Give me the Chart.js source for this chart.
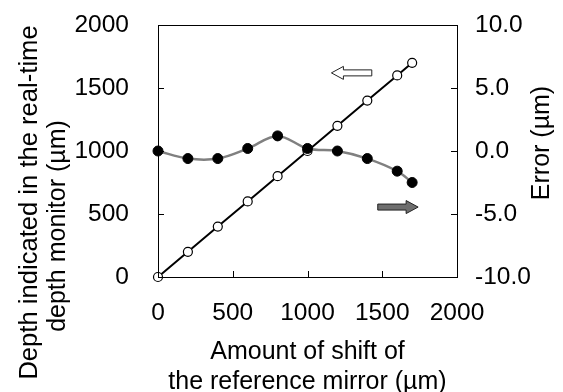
<!DOCTYPE html>
<html>
<head>
<meta charset="utf-8">
<script src="https://cdn.jsdelivr.net/npm/chart.js@4"></script>
<style>
  html, body { margin: 0; padding: 0; background: #fff; }
  #wrap { width: 563px; height: 392px; }
</style>
</head>
<body>
<div id="wrap"><canvas id="chart" width="563" height="392"></canvas></div>
<script>
// shift of the reference mirror (µm)
const shift = [0, 200, 400, 600, 800, 1000, 1200, 1400, 1600, 1700];
// depth shown in the real-time monitor (µm)
const depth = [0, 200, 400, 600, 800, 1000, 1200, 1400, 1600, 1700];
// error (µm)
const error = [0.0, -0.6, -0.6, 0.2, 1.2, 0.2, 0.0, -0.6, -1.6, -2.5];

const xTicks = [0, 500, 1000, 1500, 2000];
const depthTicks = [0, 500, 1000, 1500, 2000];
const errorTicks = [-10, -5, 0, 5, 10];

const FONT = "'Liberation Sans', Arial, sans-serif";
const TICK_SIZE = 24.5;
const TITLE_SIZE = 25;

// direction arrows telling which axis each curve belongs to
const arrows = [
    { axis: 'y', from: 1430, to: 1160, at: 1620, fill: '#ffffff' },
    { axis: 'y2', from: 1470, to: 1740, at: -4.45, fill: '#6e6e6e' }
];

function rotatedText(ctx, text, x, y, size) {
    ctx.save();
    ctx.translate(x, y);
    ctx.rotate(-Math.PI / 2);
    ctx.font = size + 'px ' + FONT;
    ctx.fillStyle = '#000';
    ctx.textAlign = 'center';
    ctx.textBaseline = 'middle';
    ctx.fillText(text, 0, 0);
    ctx.restore();
}

// fixed axis sizes, no extra label padding around the plot
function fixSize(s, size) {
    if (s.isHorizontal()) s.height = size; else s.width = size;
    s.paddingTop = s.paddingBottom = s.paddingLeft = s.paddingRight = 0;
}

const frame = {
    id: 'frame',
    afterDatasetsDraw(chart) {
        const { ctx, chartArea: a, scales } = chart;
        ctx.save();
        ctx.strokeStyle = '#000';
        ctx.lineWidth = 1;
        ctx.strokeRect(Math.round(a.left) + 0.5, Math.round(a.top) + 0.5,
            Math.round(a.right - a.left), Math.round(a.bottom - a.top));

        // inward tick marks
        const len = 6;
        ctx.beginPath();
        xTicks.forEach(v => {
            const px = Math.round(scales.x.getPixelForValue(v)) + 0.5;
            ctx.moveTo(px, a.bottom); ctx.lineTo(px, a.bottom - len);
        });
        depthTicks.forEach(v => {
            const py = Math.round(scales.y.getPixelForValue(v)) + 0.5;
            ctx.moveTo(a.left, py); ctx.lineTo(a.left + len, py);
        });
        errorTicks.forEach(v => {
            const py = Math.round(scales.y2.getPixelForValue(v)) + 0.5;
            ctx.moveTo(a.right, py); ctx.lineTo(a.right - len, py);
        });
        ctx.stroke();

        // arrows
        arrows.forEach(ar => {
            const x1 = scales.x.getPixelForValue(ar.from);
            const x2 = scales.x.getPixelForValue(ar.to);
            const y = scales[ar.axis].getPixelForValue(ar.at);
            const dir = Math.sign(x2 - x1);
            const head = 12, bodyH = 3, headH = 6.5;
            const xb = x2 - dir * head;
            ctx.beginPath();
            ctx.moveTo(x1, y - bodyH);
            ctx.lineTo(xb, y - bodyH);
            ctx.lineTo(xb, y - headH);
            ctx.lineTo(x2, y);
            ctx.lineTo(xb, y + headH);
            ctx.lineTo(xb, y + bodyH);
            ctx.lineTo(x1, y + bodyH);
            ctx.closePath();
            ctx.fillStyle = ar.fill;
            ctx.fill();
            ctx.lineWidth = 1;
            ctx.strokeStyle = '#222';
            ctx.stroke();
        });
        ctx.restore();

        // vertical axis titles, reading bottom to top
        rotatedText(ctx, 'Depth indicated in the real-time', 30, 202.5, 25.6);
        rotatedText(ctx, 'depth monitor (µm)', 58.5, 226, 25);
        rotatedText(ctx, 'Error (µm)', 542, 143, 25);
    }
};

new Chart(document.getElementById('chart'), {
    type: 'line',
    data: {
        datasets: [
            {
                label: 'Error',
                data: shift.map((s, i) => ({ x: s, y: error[i] })),
                yAxisID: 'y2',
                borderColor: '#808080',
                borderWidth: 2.5,
                tension: 0.35,
                pointRadius: 5,
                pointBackgroundColor: '#000',
                pointBorderColor: '#000',
                pointBorderWidth: 1,
                clip: false,
                order: 0
            },
            {
                label: 'Depth',
                data: shift.map((s, i) => ({ x: s, y: depth[i] })),
                yAxisID: 'y',
                borderColor: '#000',
                borderWidth: 2,
                tension: 0,
                pointRadius: 4.5,
                pointBackgroundColor: '#fff',
                pointBorderColor: '#000',
                pointBorderWidth: 1.2,
                clip: false,
                order: 1
            }
        ]
    },
    options: {
        responsive: false,
        animation: false,
        layout: { autoPadding: false, padding: { top: 25, left: 0, right: 0, bottom: 0 } },
        plugins: { legend: { display: false }, tooltip: { enabled: false } },
        scales: {
            x: {
                type: 'linear',
                min: 0, max: 2000,
                afterBuildTicks: s => { s.ticks = xTicks.map(v => ({ value: v })); },
                afterFit: s => fixSize(s, 115),
                grid: { display: false, drawTicks: false },
                border: { display: false },
                ticks: {
                    color: '#000', font: { family: FONT, size: TICK_SIZE }, padding: 22, maxRotation: 0,
                    callback: v => String(v)
                },
                title: {
                    display: true,
                    text: ['Amount of shift of', 'the reference mirror (µm)'],
                    color: '#000',
                    font: { family: FONT, size: TITLE_SIZE, lineHeight: 1.2 },
                    padding: { top: 0, bottom: -5 }
                }
            },
            y: {
                position: 'left',
                min: 0, max: 2000,
                afterBuildTicks: s => { s.ticks = depthTicks.map(v => ({ value: v })); },
                afterFit: s => fixSize(s, 158),
                grid: { display: false, drawTicks: false },
                border: { display: false },
                ticks: {
                    color: '#000', font: { family: FONT, size: TICK_SIZE }, padding: 29,
                    callback: v => String(v)
                }
            },
            y2: {
                position: 'right',
                min: -10, max: 10,
                afterBuildTicks: s => { s.ticks = errorTicks.map(v => ({ value: v })); },
                afterFit: s => fixSize(s, 106),
                grid: { display: false, drawTicks: false },
                border: { display: false },
                ticks: {
                    color: '#000', font: { family: FONT, size: TICK_SIZE }, padding: 18,
                    callback: v => v.toFixed(1)
                }
            }
        }
    },
    plugins: [frame]
});
</script>
</body>
</html>
